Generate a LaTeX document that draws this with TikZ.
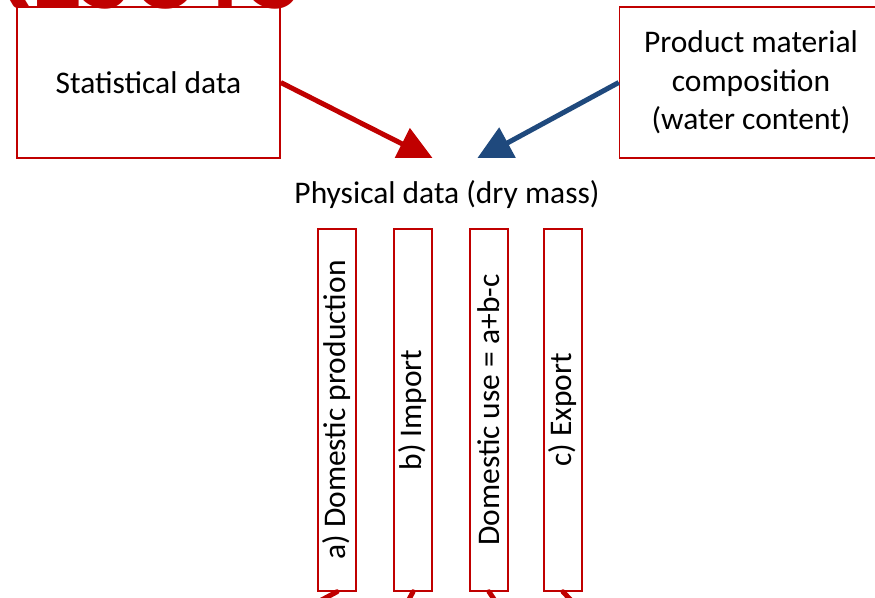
\documentclass[tikz,border=0pt]{standalone}
\usepackage{fontspec}
\setmainfont{Carlito}
\usetikzlibrary{arrows.meta,positioning}
\definecolor{boxred}{RGB}{192,0,0}
\definecolor{arrowblue}{RGB}{31,73,125}
\tikzset{
  srcbox/.style={draw=boxred, line width=1.5pt, minimum width=263pt, minimum height=151pt, inner sep=0pt, align=center},
  flowbox/.style={draw=boxred, line width=1.5pt, rotate=90, minimum width=362pt, minimum height=38pt, inner sep=0pt},
  fatarrow/.style={line width=5pt, -{Triangle[length=36pt,width=34pt]}},
  outline/.style={line width=5pt, line cap=round, boxred}
}
\begin{document}
\begin{tikzpicture}[x=1pt, y=-1pt, font=\fontsize{31.5}{38.4}\selectfont]
  \useasboundingbox (0,0) rectangle (875,597);
  \node[anchor=base west, inner sep=0pt, text=boxred, font=\fontsize{105}{110}\selectfont\bfseries] (title) at (-28,9) {RESUTS};
  \node[srcbox] (stat) at (148.5,82.5) {Statistical data};
  \node[srcbox] (prod) at (751,82.5) {Product material\\composition\\(water content)};
  \coordinate (tipR) at (434,160);
  \coordinate (tipB) at (476,160);
  \draw[fatarrow, boxred] (stat.east) -- (tipR);
  \draw[fatarrow, arrowblue] (prod.west) -- (tipB);
  \node[fill=white, minimum width=330pt, minimum height=74pt] (phys) at (447,195) {Physical data (dry mass)};
  \node[flowbox] (dprod) at (337,410) {a) Domestic production};
  \node[flowbox] (imp) at (413,410) {b) Import};
  \node[flowbox] (duse) at (489,410) {Domestic use = a+b-c};
  \node[flowbox] (exp) at (563,410) {c) Export};
  % short links leaving the bottom edge
  \coordinate (outA) at (301,611);
  \coordinate (outB) at (403,611);
  \coordinate (outC) at (502,611);
  \coordinate (outD) at (581,611);
  \draw[outline] (dprod.west) -- (outA) (imp.west) -- (outB) (duse.west) -- (outC) (exp.west) -- (outD);
\end{tikzpicture}
\end{document}
